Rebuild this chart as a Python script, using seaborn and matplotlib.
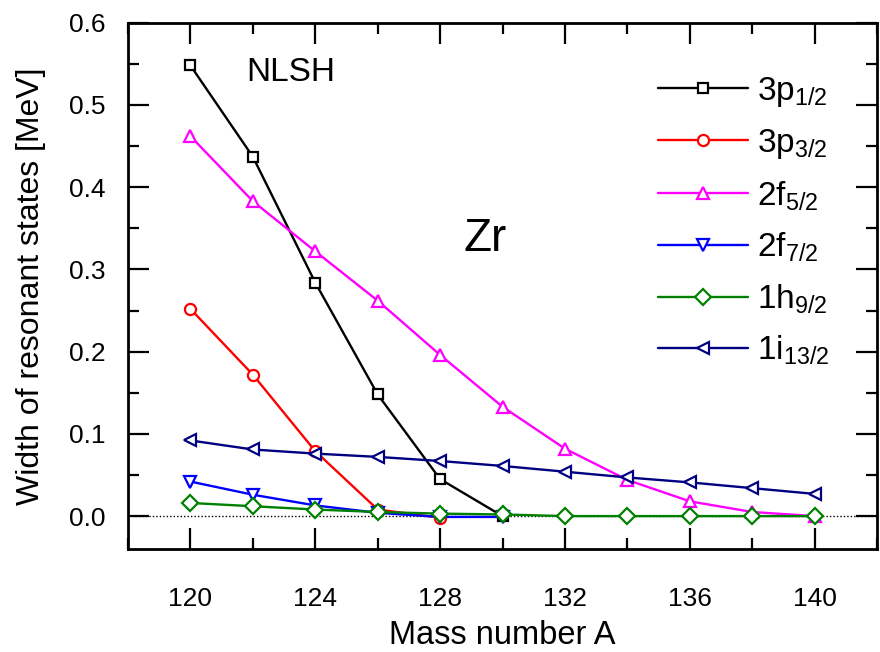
import numpy as np
import pandas as pd
import seaborn as sns
import matplotlib
matplotlib.use("Agg")
import matplotlib.pyplot as plt
from matplotlib.ticker import MultipleLocator, FormatStrFormatter

# Resonant-state widths (MeV) versus mass number for Zr isotopes (NLSH)
mass = [120, 122, 124, 126, 128, 130, 132, 134, 136, 138, 140]

w_3p12 = [0.548, 0.437, 0.284, 0.148, 0.045, 0.0]
w_3p32 = [0.252, 0.172, 0.079, 0.008, -0.002]
w_2f52 = [0.462, 0.383, 0.322, 0.262, 0.196, 0.133, 0.082, 0.044, 0.018, 0.005, 0.0]
w_2f72 = [0.042, 0.026, 0.013, 0.004, -0.001, -0.001]
w_1h92 = [0.016, 0.012, 0.008, 0.005, 0.003, 0.002, 0.0, 0.0, 0.0, 0.0, 0.0]
w_1i132 = [0.092, 0.081, 0.076, 0.072, 0.067, 0.061, 0.054, 0.047, 0.041, 0.034, 0.027]

labels = [r"3p$_{1/2}$", r"3p$_{3/2}$", r"2f$_{5/2}$", r"2f$_{7/2}$", r"1h$_{9/2}$", r"1i$_{13/2}$"]
series = [w_3p12, w_3p32, w_2f52, w_2f72, w_1h92, w_1i132]
colors = ["#000000", "#ff0000", "#ff00ff", "#0000ff", "#008000", "#000080"]
markers = ["s", "o", "^", "v", "D", "<"]
msizes = [7, 8, 9, 9, 8, 9]

sns.set_theme(style="white")
plt.rcParams["font.family"] = ["Liberation Sans", "DejaVu Sans"]
plt.rcParams["mathtext.default"] = "regular"
plt.rcParams["text.color"] = "black"
plt.rcParams["axes.labelcolor"] = "black"
plt.rcParams["xtick.color"] = "black"
plt.rcParams["ytick.color"] = "black"

fig = plt.figure(figsize=(8.8, 6.52), dpi=100)
ax = fig.add_axes([128 / 880, 1 - 549 / 652, 749 / 880, (549 - 22.7) / 652])

ax.axhline(0.0, color="black", lw=1.0, ls=(0, (1, 1.5)), zorder=1)

for lab, vals, c, m, ms in zip(labels, series, colors, markers, msizes):
    df = pd.DataFrame({"A": mass[:len(vals)], "W": vals})
    sns.lineplot(data=df, x="A", y="W", ax=ax, color=c, lw=1.7,
                 marker=m, markersize=ms, markerfacecolor="white",
                 markeredgecolor=c, markeredgewidth=1.6, label=lab, zorder=3)

ax.set_xlim(118, 142)
ax.set_ylim(-0.04, 0.6)
ax.xaxis.set_major_locator(MultipleLocator(4))
ax.xaxis.set_minor_locator(MultipleLocator(2))
ax.yaxis.set_major_locator(MultipleLocator(0.1))
ax.yaxis.set_minor_locator(MultipleLocator(0.05))
ax.yaxis.set_major_formatter(FormatStrFormatter("%.1f"))
ax.tick_params(which="both", direction="in", top=True, right=True,
               bottom=True, left=True, color="black", labelcolor="black",
               labelsize=19, width=1.6)
ax.tick_params(which="major", length=15)
ax.tick_params(which="minor", length=8)
ax.tick_params(axis="x", which="major", pad=27)
ax.tick_params(axis="y", which="major", pad=16)
for s in ax.spines.values():
    s.set_color("black")
    s.set_linewidth(2.0)

ax.set_xlabel("Mass number A", fontsize=23.5, labelpad=7, color="black")
ax.set_ylabel("Width of resonant states [MeV]", fontsize=23, labelpad=17, color="black")

ax.text(123.2, 0.539, "NLSH", fontsize=24, ha="center", va="center", color="black")
ax.text(129.45, 0.337, "Zr", fontsize=33, ha="center", va="center", color="black")

leg = ax.legend(loc="upper left", bbox_to_anchor=(0.7076, 0.901), frameon=False,
                fontsize=24, handlelength=2.7, handletextpad=0.27,
                labelspacing=0.545, numpoints=1, borderaxespad=0, borderpad=0)
for t in leg.get_texts():
    t.set_color("black")

fig.savefig("out.png", dpi=100)
